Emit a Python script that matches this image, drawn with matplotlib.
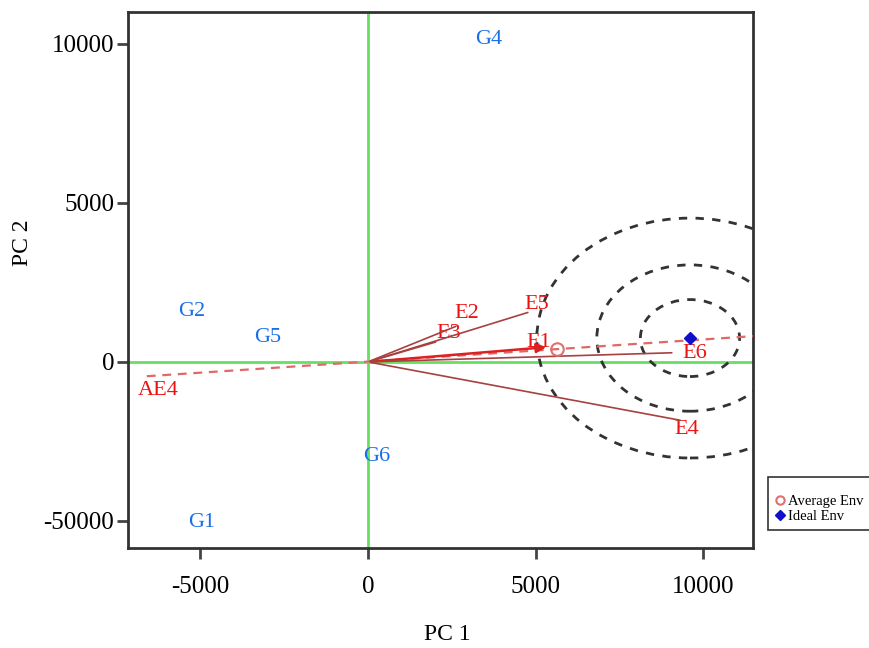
import numpy as np
import matplotlib.pyplot as plt
from matplotlib.patches import Ellipse
from matplotlib.lines import Line2D

plt.rcParams['font.family'] = ['Liberation Serif', 'DejaVu Serif']

# genotype labels (PC1, PC2)
gen_names = ['G1', 'G2', 'G4', 'G5', 'G6']
gen_x = [-4950, -5250, 3600, -3000, 250]
gen_y = [-5050, 1580, 10130, 760, -2980]

# environment vectors
env_names = ['E1', 'E2', 'E3', 'E4', 'E5', 'E6']
env_x = [5400, 2700, 2100, 9400, 4850, 9150]
env_y = [470, 1150, 650, -1850, 1580, 290]
env_lab_x = [5100, 2950, 2400, 9500, 5050, 9750]
env_lab_y = [620, 1510, 880, -2120, 1800, 280]

# average environment axis
aea_x = [-6600, 11500]
aea_y = [-450, 810]
avg_env = (5640, 400)
ideal_env = (9610, 750)

# concentric rings around ideal environment (x radius, y radius)
ring_rx = [1480, 2780, 4570]
ring_ry = [1210, 2300, 3770]

xticks = [-5000, 0, 5000, 10000]
xtick_labels = ['-5000', '0', '5000', '10000']
yticks = [-5000, 0, 5000, 10000]
ytick_labels = ['-50000', '0', '5000', '10000']

fig = plt.figure(figsize=(8.69, 6.48), dpi=100)
ax = fig.add_axes([0.1473, 0.1543, 0.7192, 0.8272])
ax.set_xlim(-7160, 11490)
ax.set_ylim(-5850, 11000)

ax.axvline(0, color='#66e060', lw=2, zorder=1)
ax.axhline(0, color='#66e060', lw=2, zorder=1)

for rx, ry in zip(ring_rx, ring_ry):
    ax.add_patch(Ellipse(ideal_env, 2 * rx, 2 * ry, fill=False,
                         ec='#333333', lw=2, ls=(0, (3, 3)), zorder=2))

ax.plot(aea_x, aea_y, color='#e06868', lw=1.6, ls=(0, (4, 3)), zorder=3)

for name, x, y in zip(env_names, env_x, env_y):
    if name == 'E1':
        ax.annotate('', xy=(x, y), xytext=(0, 0),
                    arrowprops=dict(arrowstyle='-|>', color='#dd2020', lw=1.8,
                                    mutation_scale=14), zorder=4)
    else:
        ax.annotate('', xy=(x, y), xytext=(0, 0),
                    arrowprops=dict(arrowstyle='-', color='#a84040', lw=1.2), zorder=4)

ax.plot(*avg_env, marker='o', ms=9, mfc='none', mec='#e07070', mew=1.5, zorder=5)
ax.plot(*ideal_env, marker='D', ms=6, color='#1010c8', zorder=5)

for name, x, y in zip(gen_names, gen_x, gen_y):
    ax.text(x, y, name, color='#1a6ee8', fontsize=16, ha='center', va='center')
for name, x, y in zip(env_names, env_lab_x, env_lab_y):
    ax.text(x, y, name, color='#ee1111', fontsize=16, ha='center', va='center')
ax.text(-6250, -900, 'AE4', color='#ee1111', fontsize=16, ha='center', va='center')

ax.set_xticks(xticks)
ax.set_xticklabels(xtick_labels)
ax.set_yticks(yticks)
ax.set_yticklabels(ytick_labels)
ax.tick_params(axis='both', labelsize=18, length=8, width=2, color='#444444', direction='out')
ax.tick_params(axis='y', pad=2)
ax.tick_params(axis='x', pad=12)
for sp in ax.spines.values():
    sp.set_color('#333333')
    sp.set_linewidth(2)

fig.text(447 / 869, 1 - 635 / 648, 'PC 1', fontsize=17, ha='center', va='center')
fig.text(22 / 869, 1 - 243 / 648, 'PC 2', fontsize=17, ha='center', va='center', rotation=90)

handles = [Line2D([], [], ls='none', marker='o', ms=6, mfc='none', mec='#e07070', mew=1.5),
           Line2D([], [], ls='none', marker='D', ms=5, color='#1010c8')]
leg = fig.legend(handles, ['Average Env', 'Ideal Env'], loc='upper left',
                 bbox_to_anchor=(768 / 869, 1 - 477 / 648), fontsize=10.5, title=' ',
                 title_fontsize=7, frameon=True, fancybox=False, edgecolor='black',
                 handlelength=0.6, handletextpad=0.3, borderpad=0.5, labelspacing=0.1,
                 borderaxespad=0)
leg.get_frame().set_linewidth(1.2)

fig.savefig('out.png', dpi=100)
